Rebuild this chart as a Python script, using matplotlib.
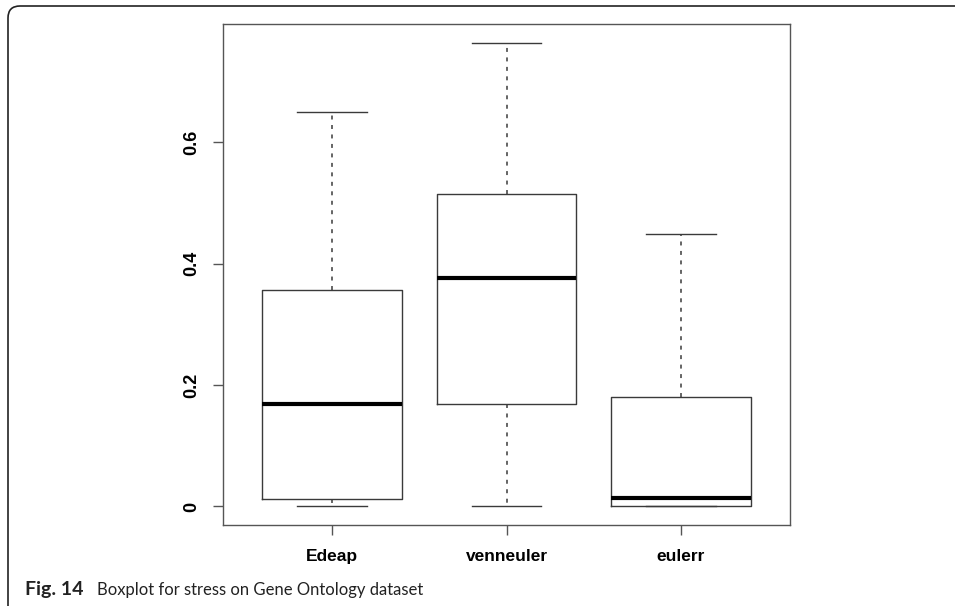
import matplotlib
matplotlib.use('Agg')
from matplotlib import pyplot as plt
from matplotlib.patches import FancyBboxPatch
from matplotlib.transforms import IdentityTransform

# stress values
categories = ['Edeap', 'venneuler', 'eulerr']
whisker_low = [0.0, 0.0, 0.0]
q1 = [0.0115, 0.169, 0.0]
medians = [0.168, 0.376, 0.014]
q3 = [0.357, 0.514, 0.181]
whisker_high = [0.650, 0.764, 0.448]
ytick_values = [0, 0.2, 0.4, 0.6]
ytick_labels = ['0', '0.2', '0.4', '0.6']

fig = plt.figure(figsize=(9.55, 6.06), dpi=100)
ax = fig.add_axes([223 / 955, 1 - 525 / 606, (790 - 223) / 955, (525 - 24) / 606])

stats = []
for i, name in enumerate(categories):
    stats.append({
        'label': name,
        'whislo': whisker_low[i],
        'q1': q1[i],
        'med': medians[i],
        'q3': q3[i],
        'whishi': whisker_high[i],
    })

line_col = '#3a3a3a'
ax.bxp(stats, positions=[1, 2, 3], widths=0.8, showfliers=False,
       boxprops=dict(color=line_col, linewidth=1.0),
       whiskerprops=dict(color=line_col, linewidth=1.1, linestyle=(0, (2.6, 3.6))),
       capprops=dict(color=line_col, linewidth=1.0),
       medianprops=dict(color='black', linewidth=3.0, solid_capstyle='butt'))

# R style: 4% padding around the data range
lo = min(whisker_low)
hi = max(whisker_high)
rng = hi - lo
ax.set_ylim(lo - 0.04 * rng, hi + 0.04 * rng)
ax.set_xlim(0.375, 3.625)

ax.set_yticks(ytick_values)
ax.set_yticklabels(ytick_labels, rotation=90, va='center',
                   fontfamily='Liberation Sans', fontweight='bold', fontsize=13)
ax.set_xticks([1, 2, 3])
ax.set_xticklabels(categories, fontfamily='Liberation Sans', fontweight='bold', fontsize=12.5)
ax.tick_params(axis='both', direction='out', length=7.5, width=1.0, color='#555555')
ax.tick_params(axis='y', pad=9)
ax.tick_params(axis='x', pad=10)
for sp in ax.spines.values():
    sp.set_color('#555555')
    sp.set_linewidth(1.0)

# rounded frame around the figure panel (pixel coords)
frame = FancyBboxPatch((8, -20), 1000, 620, boxstyle='round,pad=0,rounding_size=12',
                       transform=IdentityTransform(), fill=False,
                       edgecolor='#222222', linewidth=1.2)
fig.patches.append(frame)

base_y = (606 - 595) / 606
fig.text(25 / 955, base_y, 'Fig. 14', fontfamily='Lato', fontweight='bold',
         fontsize=14, va='baseline', ha='left', color='#222222')
fig.text(97 / 955, base_y, 'Boxplot for stress on Gene Ontology dataset',
         fontfamily='Lato', fontsize=12, va='baseline', ha='left', color='#222222')

fig.savefig('out.png', dpi=100)
